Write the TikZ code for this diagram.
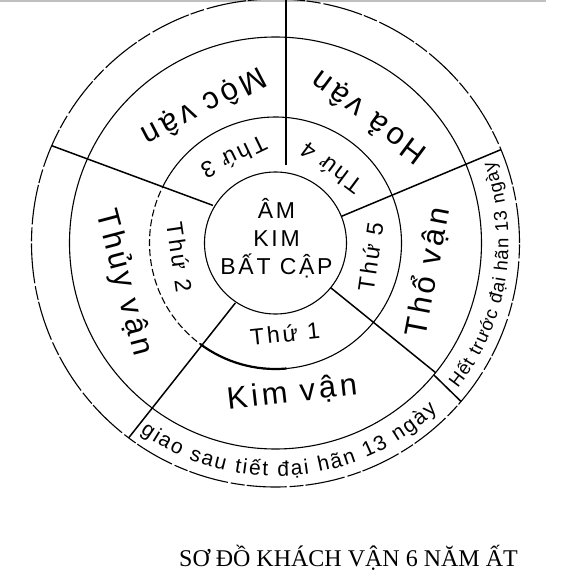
\documentclass[tikz,border=0pt]{standalone}
\usepackage{fontspec}
\setmainfont{Liberation Serif}
\newfontfamily\handfont[LetterSpace=12]{Liberation Sans}
\newfontfamily\ringfont{Liberation Sans}
\usetikzlibrary{decorations.text}
\newcommand{\hs}[1]{\handfont\fontsize{#1}{#1}\selectfont}
\newcommand{\rs}[1]{\ringfont\fontsize{#1}{#1}\selectfont}

\begin{document}
\begin{tikzpicture}[x=1pt,y=1pt,
   ring/.style={line width=1.1pt},
   spoke/.style={line width=1.5pt},
   van/.style={font=\hs{31}},
   thu/.style={font=\hs{23}}]
   \useasboundingbox (-275.5,-333) rectangle (308.5,243);
   \draw[black!25,line width=1.5pt] (-275.5,242) -- (270,242);
   \draw[ring,dash pattern=on 40pt off 3pt on 14pt off 2pt] (0,0) circle(244);
   \draw[ring] (0,0) circle(206);
   \draw[ring] (-126.8:126) arc(-126.8:151:126);
   \draw[ring,dash pattern=on 7pt off 3pt] (151:126) arc(151:233.2:126);
   \draw[line width=2.2pt] (-126.8:126) arc(-126.8:-85:126);
   \draw[ring] (0,0) circle(71);
   \draw[spoke] (10.5,78) -- (10.5,243.8);
   \draw[spoke] (149:73) -- (156.5:244);
   \draw[spoke] (22:71) -- (22.5:244);
   \draw[spoke] (-39:71) -- (-39:206);
   \draw[spoke] (-39.8:206) -- (-40.5:244);
   \draw[spoke] (-123.8:72) -- (-127:244);
   \node[van,rotate=207.7] (moc)  at (117.7:155) {Mộc vận};
   \node[van,rotate=143.4] (hoa)  at (53.4:157)  {Hoả vận};
   \node[van,rotate=-75.3] (thuy) at (194.7:157) {Thủy vận};
   \node[van,rotate=79.2]  (tho)  at (-10.8:155) {Thổ vận};
   \node[van,rotate=6.3]   (kim)  at (-83.7:151) {Kim vận};
   \node[thu,rotate=205.8] (thu3) at (115.8:95)  {Thứ 3};
   \node[thu,rotate=143.3] (thu4) at (53.3:93)   {Thứ 4};
   \node[thu,rotate=81.7]  (thu5) at (-8.3:96)   {Thứ 5};
   \node[thu,rotate=6]     (thu1) at (-84:91)    {Thứ 1};
   \node[thu,rotate=-81.7] (thu2) at (188.3:97)  {Thứ 2};
   \node[thu,align=center] (giua) at (1,5) {ÂM\\[5pt]KIM\\[5pt]BẤT CẬP};
   \path[decorate,decoration={text along path,text align=fit to path,
      text={|\rs{21}|giao sau tiết đại hãn 13 ngày}}] (-125.5:233) arc(-125.5:-46:233);
   \path[decorate,decoration={text along path,text align=fit to path,
      text={|\rs{18.5}|Hết trước đại hãn 13 ngày}}] (-38.5:233) arc(-38.5:20.5:233);
   \node[font=\fontsize{24}{24}\selectfont,anchor=base] (ten) at (73,-323) {SƠ ĐỒ KHÁCH VẬN 6 NĂM ẤT};
\end{tikzpicture}
\end{document}
